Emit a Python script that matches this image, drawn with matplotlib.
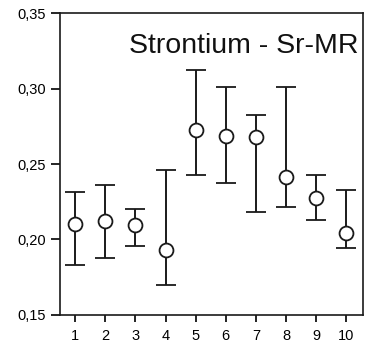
import matplotlib
matplotlib.use("Agg")
import matplotlib.pyplot as plt

plt.rcParams['font.family'] = ['Liberation Sans', 'DejaVu Sans']

# sample number, mean value and the ends of the error bars
samples = [1, 2, 3, 4, 5, 6, 7, 8, 9, 10]
means = [0.210, 0.212, 0.2095, 0.193, 0.2725, 0.2685, 0.2677, 0.2414, 0.2275, 0.2043]
upper = [0.2315, 0.2358, 0.220, 0.246, 0.312, 0.3012, 0.2823, 0.3008, 0.2427, 0.2328]
lower = [0.183, 0.188, 0.1957, 0.170, 0.2427, 0.2374, 0.2182, 0.2215, 0.2129, 0.1944]

y_ticks = [0.15, 0.20, 0.25, 0.30, 0.35]
y_labels = ['0,15', '0,20', '0,25', '0,30', '0,35']
title = 'Strontium - Sr-MR'

err_lo = [m - l for m, l in zip(means, lower)]
err_hi = [u - m for m, u in zip(means, upper)]

fig = plt.figure(figsize=(3.78, 3.46), dpi=100)
ax = fig.add_axes([0.159, 0.09, 0.801, 0.872])

ax.errorbar(samples, means, yerr=[err_lo, err_hi], fmt='o', color='black',
            ecolor='#1a1a1a', elinewidth=1.4, capsize=7, capthick=1.4,
            markersize=10, markerfacecolor='white', markeredgecolor='#1a1a1a',
            markeredgewidth=1.3, zorder=3)

ax.set_xlim(0.5, 10.55)
ax.set_ylim(0.15, 0.35)
ax.set_xticks(samples)
ax.set_xticklabels([str(s) for s in samples], fontsize=10.5)
ax.set_yticks(y_ticks)
ax.set_yticklabels(y_labels, fontsize=10.5)
ax.tick_params(axis='y', direction='out', length=6.5, width=1.2, pad=4)
ax.tick_params(axis='x', direction='out', length=5, width=1.2, pad=5)
for s in ax.spines.values():
    s.set_linewidth(1.2)
    s.set_color('#1a1a1a')

ax.text(0.985, 0.89, title, transform=ax.transAxes, ha='right', va='center',
        fontsize=20.5, color='#111111')

fig.savefig('out.png', dpi=100)
